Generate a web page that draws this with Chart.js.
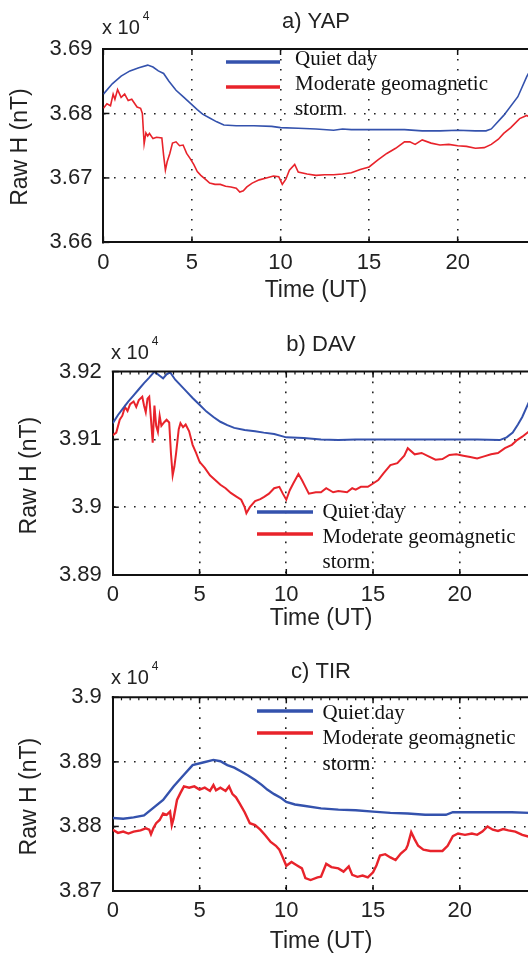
<!DOCTYPE html>
<html>
<head>
<meta charset="utf-8">
<script src="https://cdn.jsdelivr.net/npm/chart.js@4.4.1/dist/chart.umd.min.js"></script>
<style>
  html, body { margin: 0; padding: 0; background: #fff; overflow: hidden; width: 528px; height: 955px; }
  canvas { position: absolute; left: 0; }
</style>
</head>
<body>
<canvas id="chartA" width="540" height="310" style="top:0px"></canvas>
<canvas id="chartB" width="540" height="320" style="top:310px"></canvas>
<canvas id="chartC" width="540" height="325" style="top:630px"></canvas>
<script>
// --- Data (values in units of 10^4 nT) ---
const xTicks = [0, 5, 10, 15, 20];

const yTicksA = [3.66, 3.67, 3.68, 3.69];
const yTicksB = [3.89, 3.90, 3.91, 3.92];
const yTicksC = [3.87, 3.88, 3.89, 3.90];

// a) YAP
const yapQuietT = [0, 0.5, 1, 1.5, 2, 2.5, 2.8, 3.1, 3.4, 3.7, 4.1, 4.5, 4.9, 5.3, 5.6, 6, 6.4, 6.8, 7.5, 8.5, 9.5, 10, 11, 12, 13, 13.5, 14, 15, 16, 17, 18, 19, 20, 21, 21.6, 21.9, 22.6, 23.4, 23.9, 24];
const yapQuietV = [3.6830, 3.6846, 3.6858, 3.6866, 3.6871, 3.6875, 3.6872, 3.6866, 3.6862, 3.6850, 3.6836, 3.6826, 3.6816, 3.6806, 3.6799, 3.6793, 3.6787, 3.6782, 3.6781, 3.6781, 3.6780, 3.6778, 3.6777, 3.6776, 3.6774, 3.6776, 3.6775, 3.6775, 3.6775, 3.6775, 3.6773, 3.6773, 3.6774, 3.6773, 3.6773, 3.6776, 3.6797, 3.6826, 3.6857, 3.6862];
const yapStormT = [0, 0.2, 0.4, 0.55, 0.65, 0.8, 1.0, 1.2, 1.4, 1.6, 1.9, 2.1, 2.2, 2.3, 2.4, 2.5, 2.6, 2.8, 3.0, 3.3, 3.4, 3.5, 3.6, 3.75, 3.9, 4.1, 4.3, 4.5, 4.7, 4.9, 5.1, 5.3, 5.5, 5.8, 6.0, 6.3, 6.6, 6.9, 7.2, 7.5, 7.7, 7.9, 8.1, 8.4, 8.8, 9.2, 9.6, 9.9, 10.1, 10.3, 10.5, 10.8, 11.0, 11.5, 12, 12.5, 13, 13.5, 14, 14.5, 15, 15.5, 16, 16.5, 17, 17.3, 17.6, 18, 18.5, 19, 19.5, 20, 20.5, 21, 21.5, 21.9, 22.3, 22.6, 23, 23.5, 23.9, 24];
const yapStormV = [3.6808, 3.6815, 3.6812, 3.6830, 3.6822, 3.6837, 3.6825, 3.6830, 3.6820, 3.6822, 3.6810, 3.6808, 3.6800, 3.6753, 3.6770, 3.6765, 3.6769, 3.6761, 3.6763, 3.6762, 3.6735, 3.6712, 3.6725, 3.6738, 3.6754, 3.6756, 3.6750, 3.6751, 3.6738, 3.6730, 3.6721, 3.6710, 3.6704, 3.6697, 3.6692, 3.6690, 3.6690, 3.6687, 3.6686, 3.6684, 3.6678, 3.6680, 3.6686, 3.6692, 3.6697, 3.6700, 3.6703, 3.6702, 3.6690, 3.6698, 3.6712, 3.6721, 3.6709, 3.6706, 3.6704, 3.6705, 3.6705, 3.6706, 3.6708, 3.6713, 3.6717, 3.6728, 3.6738, 3.6746, 3.6756, 3.6756, 3.6752, 3.6759, 3.6754, 3.6751, 3.6752, 3.6750, 3.6749, 3.6746, 3.6747, 3.6752, 3.6760, 3.6769, 3.6778, 3.6792, 3.6797, 3.6795];

// b) DAV
const davQuietT = [0, 0.3, 0.6, 0.9, 1.2, 1.5, 1.8, 2.1, 2.4, 2.7, 2.9, 3.1, 3.3, 3.6, 3.9, 4.2, 4.6, 5.0, 5.4, 5.8, 6.2, 6.6, 7.0, 7.6, 8.2, 8.7, 9.3, 10, 11, 12, 13, 14, 15, 16, 17, 18, 19, 20, 21, 22.3, 22.7, 23.05, 23.35, 23.6, 24];
const davQuietV = [3.9124, 3.9136, 3.9146, 3.9156, 3.9165, 3.9174, 3.9183, 3.9191, 3.9200, 3.9194, 3.9190, 3.9196, 3.9199, 3.9188, 3.9180, 3.9172, 3.9161, 3.9151, 3.9141, 3.9133, 3.9126, 3.9121, 3.9117, 3.9114, 3.9112, 3.9110, 3.9108, 3.9103, 3.9102, 3.9100, 3.9099, 3.9100, 3.9100, 3.9100, 3.9100, 3.9100, 3.9100, 3.9100, 3.9100, 3.9099, 3.9103, 3.9110, 3.9122, 3.9133, 3.9156];
const davStormT = [0, 0.2, 0.4, 0.55, 0.7, 0.85, 1.0, 1.2, 1.35, 1.5, 1.7, 1.8, 1.9, 2.0, 2.1, 2.2, 2.3, 2.4, 2.5, 2.6, 2.7, 2.8, 2.95, 3.1, 3.25, 3.35, 3.45, 3.55, 3.65, 3.8, 3.9, 4.05, 4.2, 4.4, 4.6, 4.8, 5.0, 5.3, 5.6, 5.9, 6.2, 6.5, 6.8, 7.1, 7.4, 7.6, 7.7, 7.9, 8.2, 8.5, 8.7, 9.0, 9.3, 9.6, 9.8, 10.0, 10.2, 10.4, 10.7, 10.9, 11.1, 11.3, 11.7, 12, 12.3, 12.7, 13, 13.5, 13.8, 14.0, 14.3, 14.7, 15, 15.3, 15.6, 16, 16.4, 16.8, 17.0, 17.4, 17.8, 18.2, 18.6, 19, 19.4, 19.8, 20.2, 20.6, 21, 21.4, 21.8, 22.2, 22.6, 23, 23.3, 23.6, 24];
const davStormV = [3.9106, 3.9110, 3.9129, 3.9135, 3.9148, 3.9142, 3.9152, 3.9156, 3.9148, 3.9158, 3.9163, 3.9150, 3.9140, 3.9160, 3.9163, 3.9130, 3.9095, 3.9150, 3.9120, 3.9111, 3.9135, 3.9120, 3.9125, 3.9129, 3.9125, 3.9080, 3.9047, 3.9060, 3.9080, 3.9115, 3.9124, 3.9118, 3.9122, 3.9112, 3.9092, 3.9080, 3.9067, 3.9058, 3.9047, 3.9040, 3.9033, 3.9028, 3.9021, 3.9016, 3.9011, 3.9000, 3.8991, 3.9000, 3.9009, 3.9012, 3.9015, 3.9020, 3.9028, 3.9030, 3.9020, 3.9011, 3.9025, 3.9035, 3.9049, 3.9040, 3.9030, 3.9020, 3.9022, 3.9022, 3.9028, 3.9022, 3.9024, 3.9022, 3.9028, 3.9026, 3.9030, 3.9030, 3.9035, 3.9040, 3.9050, 3.9062, 3.9065, 3.9076, 3.9087, 3.9078, 3.9080, 3.9075, 3.9070, 3.9071, 3.9077, 3.9078, 3.9076, 3.9074, 3.9072, 3.9075, 3.9078, 3.9080, 3.9087, 3.9092, 3.9099, 3.9104, 3.9112];

// c) TIR
const tirQuietT = [0, 0.6, 1.2, 1.8, 2.3, 2.9, 3.5, 4.1, 4.6, 5.2, 5.8, 6.2, 6.6, 7.0, 7.4, 7.8, 8.2, 8.6, 8.9, 9.3, 9.7, 10, 10.5, 11, 12, 13, 14, 15, 16, 17, 18, 19.2, 19.6, 20, 21, 22, 23, 24];
const tirQuietV = [3.8813, 3.8812, 3.8814, 3.8817, 3.8828, 3.8841, 3.8862, 3.8880, 3.8895, 3.8899, 3.8903, 3.8901, 3.8895, 3.8891, 3.8885, 3.8879, 3.8872, 3.8864, 3.8857, 3.8850, 3.8844, 3.8838, 3.8834, 3.8832, 3.8828, 3.8826, 3.8825, 3.8823, 3.8821, 3.8820, 3.8818, 3.8818, 3.8822, 3.8822, 3.8822, 3.8822, 3.8822, 3.8821];
const tirStormT = [0, 0.3, 0.6, 0.9, 1.2, 1.6, 1.9, 2.1, 2.2, 2.35, 2.5, 2.7, 2.9, 3.1, 3.3, 3.4, 3.5, 3.7, 3.9, 4.1, 4.4, 4.7, 5.0, 5.3, 5.6, 5.8, 5.95, 6.2, 6.5, 6.7, 6.9, 7.1, 7.3, 7.6, 7.9, 8.2, 8.5, 8.8, 9.1, 9.4, 9.6, 9.8, 10.0, 10.3, 10.6, 10.9, 11.1, 11.4, 11.8, 12.0, 12.3, 12.6, 13.0, 13.3, 13.6, 13.8, 14.1, 14.4, 14.7, 15.0, 15.2, 15.4, 15.7, 16.0, 16.3, 16.6, 16.9, 17.0, 17.2, 17.4, 17.6, 17.9, 18.3, 18.7, 19.0, 19.3, 19.6, 19.9, 20.3, 20.7, 21.0, 21.3, 21.6, 21.9, 22.2, 22.5, 22.8, 23.2, 23.6, 24];
const tirStormV = [3.8795, 3.8790, 3.8792, 3.8789, 3.8792, 3.8794, 3.8797, 3.8795, 3.8788, 3.8798, 3.8805, 3.8810, 3.8820, 3.8818, 3.8823, 3.8802, 3.8812, 3.8841, 3.8852, 3.8862, 3.8860, 3.8862, 3.8857, 3.8860, 3.8855, 3.8864, 3.8856, 3.8860, 3.8855, 3.8862, 3.8850, 3.8845, 3.8836, 3.8822, 3.8805, 3.8802, 3.8795, 3.8786, 3.8776, 3.8770, 3.8764, 3.8752, 3.8739, 3.8745, 3.8740, 3.8735, 3.8720, 3.8717, 3.8721, 3.8722, 3.8742, 3.8737, 3.8735, 3.8730, 3.8738, 3.8725, 3.8722, 3.8724, 3.8721, 3.8729, 3.8740, 3.8755, 3.8757, 3.8752, 3.8748, 3.8758, 3.8765, 3.8771, 3.8791, 3.8780, 3.8770, 3.8764, 3.8762, 3.8762, 3.8762, 3.8770, 3.8785, 3.8789, 3.8787, 3.8789, 3.8787, 3.8792, 3.8800, 3.8795, 3.8793, 3.8796, 3.8794, 3.8792, 3.8787, 3.8784];

// --- Style ---
const BLUE = '#3452ad';
const RED = '#e8232b';
const INK = '#222';
const SANS = '"Liberation Sans", Arial, sans-serif';
const SERIF = '"Liberation Serif", "Times New Roman", serif';

const toXY = (ts, vs) => ts.map((t, i) => ({ x: t, y: vs[i] }));
const fmtY = v => parseFloat(v.toFixed(2)).toString();

// --- Decoration plugin: frame top, inward ticks, titles, legend ---
const frameDecor = {
    id: 'frameDecor',
    afterDraw(chart, args, o) {
        const { ctx, chartArea: a, scales: { x, y } } = chart;
        const line = (x1, y1, x2, y2) => { ctx.beginPath(); ctx.moveTo(x1, y1); ctx.lineTo(x2, y2); ctx.stroke(); };
        ctx.save();
        ctx.strokeStyle = '#111';
        ctx.lineWidth = 2;
        line(a.left - 1, a.top, a.right + 2, a.top);

        ctx.lineWidth = 1.5;
        x.ticks.forEach(t => {
            const px = x.getPixelForValue(t.value);
            line(px, a.bottom, px, a.bottom - 6);
            line(px, a.top, px, a.top + 6);
        });
        y.ticks.forEach(t => {
            const py = y.getPixelForValue(t.value);
            line(a.left, py, a.left + 6, py);
        });
        if (o.minor) {
            ctx.lineWidth = 1.2;
            for (let v = 0.5; v < 24; v += 0.5) {
                const px = x.getPixelForValue(v);
                line(px, a.top, px, a.top + 3);
            }
        }

        const cx = (a.left + 24 * (x.getPixelForValue(1) - x.getPixelForValue(0)) + a.left) / 2;
        ctx.fillStyle = INK;
        ctx.textBaseline = 'middle';
        ctx.textAlign = 'center';
        ctx.font = '22px ' + SANS;
        ctx.fillText(o.title, cx, o.titleY);
        ctx.font = '23px ' + SANS;
        ctx.fillText('Time (UT)', cx, o.xlabY);

        ctx.save();
        ctx.translate(o.ylabX, o.ylabY);
        ctx.rotate(-Math.PI / 2);
        ctx.fillText('Raw H (nT)', 0, 0);
        ctx.restore();

        // x 10^4 multiplier
        ctx.textAlign = 'left';
        ctx.textBaseline = 'alphabetic';
        ctx.font = '20px ' + SANS;
        ctx.fillText('x 10', o.mulX, o.mulY);
        const w = ctx.measureText('x 10').width;
        ctx.font = '12px ' + SANS;
        ctx.fillText('4', o.mulX + w + 3, o.mulY - 14);

        // legend
        ctx.lineWidth = 3.5;
        ctx.strokeStyle = BLUE;
        line(o.legX1, o.legY1, o.legX2, o.legY1);
        ctx.strokeStyle = RED;
        line(o.legX1, o.legY2, o.legX2, o.legY2);
        ctx.fillStyle = '#111';
        ctx.textBaseline = 'middle';
        ctx.font = '21px ' + SERIF;
        o.legRows.forEach((txt, i) => ctx.fillText(txt, o.legTX, o.legRowY[i]));
        ctx.restore();
    }
};

function makeChart(id, c) {
    const yMin = c.yTicks[0], yMax = c.yTicks[c.yTicks.length - 1];
    return new Chart(document.getElementById(id), {
        type: 'line',
        data: {
            datasets: [
                { label: 'Quiet day', data: toXY(c.qT, c.qV), borderColor: BLUE, borderWidth: c.lw, pointRadius: 0, tension: 0 },
                { label: 'Moderate geomagnetic storm', data: toXY(c.sT, c.sV), borderColor: RED, borderWidth: c.lw, pointRadius: 0, tension: 0 }
            ]
        },
        options: {
            responsive: false,
            animation: false,
            events: [],
            layout: { padding: { top: c.padTop, right: c.padRight, left: 0, bottom: 0 } },
            plugins: { legend: { display: false }, tooltip: { enabled: false }, frameDecor: c.decor },
            scales: {
                x: {
                    type: 'linear', min: 0, max: 24,
                    afterBuildTicks: s => { s.ticks = xTicks.map(v => ({ value: v })); },
                    afterFit: s => { s.height = c.xAxisH; },
                    ticks: { color: INK, font: { family: SANS, size: 22 }, padding: 7, maxRotation: 0, autoSkip: false },
                    grid: { drawTicks: false, lineWidth: 1.6, color: ctx => (ctx.tick && ctx.tick.value > 0 && ctx.tick.value < 24) ? '#222' : 'rgba(0,0,0,0)' },
                    border: { display: true, color: '#111', width: 2, dash: [1.6, 8.4] }
                },
                y: {
                    type: 'linear', min: yMin, max: yMax,
                    afterBuildTicks: s => { s.ticks = c.yTicks.map(v => ({ value: v })); },
                    afterFit: s => { s.width = c.yAxisW; },
                    ticks: { color: INK, font: { family: SANS, size: 22 }, padding: 11, callback: v => fmtY(v) },
                    grid: { drawTicks: false, lineWidth: 1.6, color: ctx => (ctx.tick && ctx.tick.value > yMin + 1e-6 && ctx.tick.value < yMax - 1e-6) ? '#222' : 'rgba(0,0,0,0)' },
                    border: { display: true, color: '#111', width: 2, dash: [1.6, 8.4] }
                }
            }
        },
        plugins: [frameDecor]
    });
}

const legendRows = ['Quiet day', 'Moderate geomagnetic', 'storm'];

makeChart('chartA', {
    qT: yapQuietT, qV: yapQuietV, sT: yapStormT, sV: yapStormV, yTicks: yTicksA, lw: 1.6,
    padTop: 49, padRight: 11.5, yAxisW: 103.4, xAxisH: 67.6,
    decor: { title: 'a) YAP', titleY: 22, xlabY: 291, ylabX: 21, ylabY: 147, mulX: 102, mulY: 34, minor: false,
        legX1: 226, legX2: 280, legY1: 62, legY2: 87, legTX: 295, legRows: legendRows, legRowY: [59, 84, 109] }
});

makeChart('chartB', {
    qT: davQuietT, qV: davQuietV, sT: davStormT, sV: davStormV, yTicks: yTicksB, lw: 2,
    padTop: 61.6, padRight: 10.8, yAxisW: 112.8, xAxisH: 55,
    decor: { title: 'b) DAV', titleY: 35, xlabY: 309, ylabX: 29.5, ylabY: 165.6, mulX: 111, mulY: 49, minor: true,
        legX1: 257, legX2: 313, legY1: 202, legY2: 224, legTX: 322.6, legRows: legendRows, legRowY: [202, 227, 252] }
});

makeChart('chartC', {
    qT: tirQuietT, qV: tirQuietV, sT: tirStormT, sV: tirStormV, yTicks: yTicksC, lw: 2.4,
    padTop: 67.3, padRight: 10.8, yAxisW: 112.8, xAxisH: 64,
    decor: { title: 'c) TIR', titleY: 42, xlabY: 312, ylabX: 29.5, ylabY: 166.6, mulX: 111, mulY: 54, minor: true,
        legX1: 257, legX2: 313, legY1: 81, legY2: 103, legTX: 322.6, legRows: legendRows, legRowY: [83.5, 108.5, 134] }
});
</script>
</body>
</html>
